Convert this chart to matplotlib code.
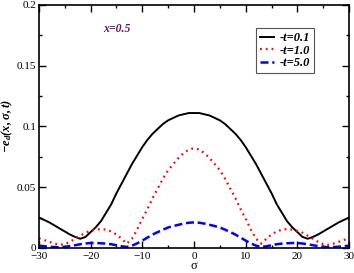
import matplotlib
matplotlib.use("Agg")
import matplotlib.pyplot as plt
from matplotlib.ticker import MultipleLocator

plt.rcParams['font.family'] = ['Liberation Serif', 'DejaVu Serif']
plt.rcParams['mathtext.fontset'] = 'custom'
plt.rcParams['mathtext.it'] = 'Liberation Serif:italic:bold'
plt.rcParams['mathtext.rm'] = 'Liberation Serif:italic:bold'

# data
sigma = [-30, -29, -28, -27, -26, -25, -24, -23, -22, -21, -20, -19, -18, -17, -16, -15,
         -14, -13, -12, -11, -10, -9, -8, -7, -6, -5, -4, -3, -2, -1, 0,
         1, 2, 3, 4, 5, 6, 7, 8, 9, 10, 11, 12, 13, 14, 15,
         16, 17, 18, 19, 20, 21, 22, 23, 24, 25, 26, 27, 28, 29, 30]
e_t01 = [0.025, 0.023, 0.021, 0.0185, 0.016, 0.0135, 0.011, 0.009, 0.0075, 0.009, 0.013,
         0.017, 0.022, 0.029, 0.036, 0.045, 0.053, 0.061, 0.069, 0.076, 0.083, 0.089,
         0.094, 0.098, 0.102, 0.105, 0.107, 0.109, 0.110, 0.111, 0.111,
         0.111, 0.110, 0.109, 0.107, 0.105, 0.102, 0.098, 0.094, 0.089, 0.083, 0.076,
         0.069, 0.061, 0.053, 0.045, 0.036, 0.029, 0.022, 0.017, 0.013, 0.009, 0.0075,
         0.009, 0.011, 0.0135, 0.016, 0.0185, 0.021, 0.023, 0.025]
e_t10 = [0.008, 0.0065, 0.005, 0.0035, 0.0025, 0.003, 0.005, 0.0075, 0.010, 0.0125, 0.014,
         0.015, 0.0155, 0.015, 0.0135, 0.011, 0.0075, 0.0035, 0.0075, 0.015, 0.024, 0.032,
         0.041, 0.049, 0.057, 0.064, 0.069, 0.074, 0.078, 0.081, 0.082,
         0.081, 0.078, 0.074, 0.069, 0.064, 0.057, 0.049, 0.041, 0.032, 0.024, 0.015,
         0.0075, 0.0035, 0.0075, 0.011, 0.0135, 0.015, 0.0155, 0.015, 0.014, 0.0125, 0.010,
         0.0075, 0.005, 0.003, 0.0025, 0.0035, 0.005, 0.0065, 0.008]
e_t50 = [0.0018, 0.0014, 0.001, 0.0007, 0.0005, 0.0009, 0.0015, 0.0022, 0.003, 0.0036, 0.004,
         0.004, 0.0038, 0.0035, 0.003, 0.0022, 0.0013, 0.0008, 0.0018, 0.0037, 0.006, 0.0085,
         0.011, 0.013, 0.015, 0.0168, 0.018, 0.019, 0.020, 0.0207, 0.021,
         0.0207, 0.020, 0.019, 0.018, 0.0168, 0.015, 0.013, 0.011, 0.0085, 0.006, 0.0037,
         0.0018, 0.0008, 0.0013, 0.0022, 0.003, 0.0035, 0.0038, 0.004, 0.004, 0.0036, 0.003,
         0.0022, 0.0015, 0.0009, 0.0005, 0.0007, 0.001, 0.0014, 0.0018]
labels = ['-t=0.1', '-t=1.0', '-t=5.0']

fig = plt.figure(figsize=(3.54, 2.73), dpi=100)
ax = fig.add_axes([0.110, 0.092, 0.876, 0.890])

ax.plot(sigma, e_t01, color='black', lw=1.4, label=labels[0])
ax.plot(sigma, e_t10, color='red', lw=1.6, ls=(0, (0.8, 1.8)), label=labels[1])
ax.plot(sigma, e_t50, color='blue', lw=1.8, ls=(0, (3.2, 1.5)), label=labels[2])

ax.set_xlim(-30, 30)
ax.set_ylim(0, 0.2)
ax.xaxis.set_major_locator(MultipleLocator(10))
ax.xaxis.set_minor_locator(MultipleLocator(5))
ax.yaxis.set_minor_locator(MultipleLocator(0.025))
ax.set_yticks([0, 0.05, 0.1, 0.15, 0.2])
ax.set_yticklabels(['0', '0.05', '0.1', '0.15', '0.2'])
ax.tick_params(which='both', direction='in', top=True, right=True, labelsize=8, pad=2)
ax.tick_params(axis='x', which='major', pad=3)
ax.tick_params(which='major', length=5, width=1)
ax.tick_params(which='minor', length=2.5, width=1)
for s in ax.spines.values():
    s.set_linewidth(1.2)

ax.set_xlabel('σ', fontsize=9, labelpad=-1)
ax.set_ylabel(r'$-e_d(x,\sigma,t)$', fontsize=9, labelpad=1)

ax.text(-17.6, 0.180, 'x=0.5', color='#6b1a4f', fontsize=8.5,
        style='italic', weight='bold', va='center')

leg = ax.legend(loc='upper left', bbox_to_anchor=(0.68, 0.93),
                prop={'style': 'italic', 'weight': 'bold', 'size': 9},
                handlelength=1.1, handletextpad=0.5, labelspacing=0.05,
                borderpad=0.3, fancybox=False, framealpha=1)
leg.get_frame().set_edgecolor('#555555')
leg.get_frame().set_linewidth(0.8)

fig.savefig('out.png', dpi=100)
